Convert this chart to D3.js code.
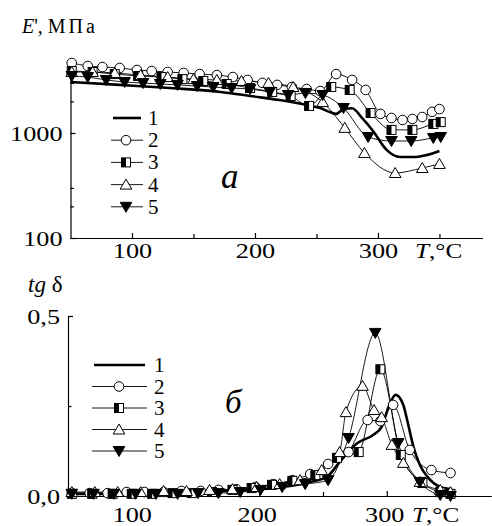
<!DOCTYPE html>
<html>
<head>
<meta charset="utf-8">
<script src="https://cdn.jsdelivr.net/npm/d3@7"></script>
<style>
body { margin: 0; background: #fff; }
svg { display: block; }
text { font-family: "Liberation Serif", "Times New Roman", serif; fill: #000; }
</style>
</head>
<body>
<script>
// panel a: storage modulus E', MPa (log axis)
var modT1 = [50, 90, 131, 172, 196, 220, 242, 253, 261, 266, 272, 279, 287, 296, 307, 318, 329, 339, 350];
var modE1 = [3060, 2870, 2680, 2460, 2250, 2060, 1850, 1730, 1580, 1520, 1690, 1720, 1390, 1045, 690, 590, 590, 615, 675];
var modT2 = [51, 64, 76, 90, 104, 116, 129, 142, 155, 169, 182, 194, 206, 218, 230, 242, 253, 266, 279, 290, 302, 311, 320, 328, 336, 344, 350];
var modE2 = [4640, 4350, 4250, 4160, 3980, 3890, 3810, 3730, 3640, 3560, 3410, 3200, 3000, 2870, 2740, 2620, 2510, 3640, 3200, 2570, 1520, 1390, 1330, 1360, 1420, 1590, 1690];
var modT3 = [51, 68, 86, 105, 124, 141, 158, 177, 196, 214, 229, 244, 262, 277, 294, 311, 328, 345, 351];
var modE3 = [3890, 3810, 3640, 3490, 3410, 3260, 3130, 2930, 2680, 2460, 2250, 1810, 2740, 2570, 1550, 1070, 1070, 1220, 1270];
var modT4 = [51, 68, 86, 107, 129, 150, 169, 189, 211, 231, 255, 273, 289, 314, 336, 350];
var modE4 = [3810, 3810, 3730, 3560, 3410, 3260, 3200, 3130, 3000, 2740, 1970, 1120, 645, 416, 464, 507];
var modT5 = [51, 64, 79, 94, 109, 123, 137, 153, 166, 181, 196, 212, 227, 241, 255, 272, 292, 311, 327, 345, 351];
var modE5 = [3490, 3410, 3200, 3060, 2990, 2930, 2870, 2800, 2740, 2680, 2620, 2460, 2300, 2400, 2300, 1730, 916, 839, 839, 896, 916];

// panel b: loss tangent
var lossT1 = [50, 91, 130, 169, 201, 224, 240, 253, 263, 277, 289, 296, 302, 307, 313, 316, 321, 326, 332, 342, 351];
var lossTg1 = [0.006, 0.006, 0.008, 0.014, 0.019, 0.028, 0.039, 0.053, 0.094, 0.147, 0.169, 0.192, 0.253, 0.281, 0.253, 0.211, 0.136, 0.086, 0.053, 0.025, 0.019];
var lossT2 = [53, 67, 81, 96, 110, 125, 139, 154, 168, 182, 197, 211, 226, 240, 254, 270, 285, 295, 305, 318, 335, 350];
var lossTg2 = [0.008, 0.008, 0.008, 0.011, 0.011, 0.011, 0.014, 0.014, 0.017, 0.019, 0.025, 0.033, 0.044, 0.061, 0.089, 0.122, 0.211, 0.208, 0.253, 0.128, 0.072, 0.064];
var lossT3 = [53, 69, 85, 100, 116, 132, 147, 163, 179, 194, 210, 226, 244, 261, 278, 295, 311, 328, 342, 350];
var lossTg3 = [0.006, 0.006, 0.006, 0.006, 0.006, 0.008, 0.008, 0.011, 0.017, 0.022, 0.031, 0.042, 0.058, 0.106, 0.122, 0.352, 0.114, 0.036, 0.011, 0.006];
var lossT4 = [53, 71, 89, 107, 125, 143, 161, 179, 198, 216, 232, 249, 263, 268, 281, 290, 296, 304, 313, 326, 342, 350];
var lossTg4 = [0.011, 0.011, 0.011, 0.011, 0.014, 0.014, 0.017, 0.019, 0.025, 0.033, 0.044, 0.072, 0.122, 0.233, 0.306, 0.239, 0.219, 0.142, 0.092, 0.039, 0.017, 0.011];
var lossT5 = [53, 70, 86, 103, 119, 136, 152, 168, 185, 201, 218, 236, 254, 270, 291, 309, 326, 342, 350];
var lossTg5 = [0.006, 0.006, 0.006, 0.006, 0.006, 0.006, 0.008, 0.008, 0.011, 0.017, 0.025, 0.033, 0.044, 0.161, 0.453, 0.147, 0.039, 0.003, 0.0];

var seriesNames = ["1", "2", "3", "4", "5"];
var xMajor = [100, 200, 300];
var xMinor = [150, 250, 350];
var eMajor = [100, 1000];
var eMinor = [200, 300, 2000, 3000];
var tgMajor = [0, 0.5];
var tgMinor = [0.25];

var modT = [modT1, modT2, modT3, modT4, modT5];
var modE = [modE1, modE2, modE3, modE4, modE5];
var lossT = [lossT1, lossT2, lossT3, lossT4, lossT5];
var lossTg = [lossTg1, lossTg2, lossTg3, lossTg4, lossTg5];

// marker type and line weight for each curve
var marks = [null, "circle", "square", "tri", "itri"];
var widths = [2.6, 0.9, 0.9, 0.9, 0.9];

var svg = d3.select("body").append("svg")
    .attr("width", 492)
    .attr("height", 526);

var xTop = d3.scaleLinear().domain([50, 385]).range([70.5, 482.5]);
var yTop = d3.scaleLog().domain([100, 5000]).range([238, 59.6]);
var xBot = d3.scaleLinear().domain([50, 382]).range([68, 491.3]);
var yBot = d3.scaleLinear().domain([0, 0.5]).range([496, 316]);

function widen(sel, k) {
    sel.each(function() {
        var len = this.getComputedTextLength();
        d3.select(this).attr("textLength", len * k).attr("lengthAdjust", "spacingAndGlyphs");
    });
}

function drawMarker(g, type, x, y) {
    if (type == "circle") {
        g.append("circle").attr("cx", x).attr("cy", y).attr("r", 4.8)
            .attr("fill", "#fff").attr("stroke", "#000").attr("stroke-width", 1);
    } else if (type == "square") {
        g.append("rect").attr("x", x - 4.5).attr("y", y - 4.5).attr("width", 9).attr("height", 9)
            .attr("fill", "#fff").attr("stroke", "#000").attr("stroke-width", 1);
        g.append("rect").attr("x", x - 4.5).attr("y", y - 4.5).attr("width", 4.5).attr("height", 9)
            .attr("fill", "#000");
    } else if (type == "tri") {
        g.append("path")
            .attr("d", "M" + x + "," + (y - 5.5) + "L" + (x + 5.8) + "," + (y + 4.5) + "L" + (x - 5.8) + "," + (y + 4.5) + "Z")
            .attr("fill", "#fff").attr("stroke", "#000").attr("stroke-width", 1);
    } else if (type == "itri") {
        g.append("path")
            .attr("d", "M" + x + "," + (y + 5.5) + "L" + (x + 5.8) + "," + (y - 4.5) + "L" + (x - 5.8) + "," + (y - 4.5) + "Z")
            .attr("fill", "#000").attr("stroke", "#000").attr("stroke-width", 1);
    }
}

function drawPanel(xs, ys, tArr, vArr, yMajor, yMinor, yFmt, xLabelY, xLabelShift) {
    var g = svg.append("g");

    // x axis, ticks pointing inward
    var xg = g.append("g")
        .attr("transform", "translate(0," + ys.range()[0] + ")")
        .call(d3.axisBottom(xs).tickValues(xMajor).tickSize(-5).tickSizeOuter(0).tickFormat(d3.format("d")));
    g.append("g")
        .attr("transform", "translate(0," + ys.range()[0] + ")")
        .call(d3.axisBottom(xs).tickValues(xMinor).tickSize(-4).tickSizeOuter(0).tickFormat(""))
        .select(".domain").remove();
    xg.selectAll("text")
        .attr("y", xLabelY).attr("dy", 0)
        .attr("x", function(d) { return d > 100 ? xLabelShift : 0; })
        .style("font-size", "21px")
        .call(widen, 1.25);

    // y axis
    var yg = g.append("g")
        .attr("transform", "translate(" + xs.range()[0] + ",0)")
        .call(d3.axisLeft(ys).tickValues(yMajor).tickSize(-5).tickSizeOuter(0).tickPadding(8).tickFormat(yFmt));
    g.append("g")
        .attr("transform", "translate(" + xs.range()[0] + ",0)")
        .call(d3.axisLeft(ys).tickValues(yMinor).tickSize(-3.5).tickSizeOuter(0).tickFormat(""))
        .select(".domain").remove();
    yg.selectAll("text")
        .attr("dy", "0.34em")
        .style("font-size", "21px")
        .call(widen, 1.25);
    g.selectAll(".domain, .tick line").attr("stroke-width", 1.2);

    var line = d3.line()
        .x(function(d) { return xs(d[0]); })
        .y(function(d) { return ys(d[1]); })
        .curve(d3.curveMonotoneX);

    var data = tArr.map(function(t, i) {
        return t.map(function(v, j) { return [v, vArr[i][j]]; });
    });

    data.forEach(function(pts, i) {
        g.append("path")
            .datum(pts)
            .attr("d", line)
            .attr("fill", "none")
            .attr("stroke", "#000")
            .attr("stroke-width", widths[i]);
    });
    data.forEach(function(pts, i) {
        if (!marks[i]) return;
        pts.forEach(function(d) { drawMarker(g, marks[i], xs(d[0]), ys(d[1])); });
    });
    return g;
}

drawPanel(xTop, yTop, modT, modE, eMajor, eMinor, d3.format("d"), 20, 0);
drawPanel(xBot, yBot, lossT, lossTg, tgMajor, tgMinor, function(d) { return d3.format(".1f")(d).replace(".", ","); }, 26, -2.5);

// legends
function drawLegend(x1, x2, xm, xl, y0, dy) {
    var lg = svg.append("g");
    seriesNames.forEach(function(name, i) {
        var y = y0 + dy * i;
        lg.append("line")
            .attr("x1", i == 0 ? x1 + 2 : x1).attr("x2", i == 0 ? x2 - 2 : x2)
            .attr("y1", y).attr("y2", y)
            .attr("stroke", "#000").attr("stroke-width", widths[i]);
        drawMarker(lg, marks[i], xm, y);
        lg.append("text")
            .attr("x", xl).attr("y", y + 7)
            .style("font-size", "21px")
            .text(name);
    });
}
drawLegend(111, 143, 126, 148, 118, 22.2);
drawLegend(92, 147, 119, 154, 365, 21.5);

// axis titles
var t1 = svg.append("text").attr("x", 22).attr("y", 33).style("font-size", "20px");
t1.append("tspan").style("font-style", "italic").text("E");
t1.append("tspan").text("', ");
t1.append("tspan").attr("letter-spacing", "3px").text("МПа");

var t2 = svg.append("text").attr("x", 28).attr("y", 292).style("font-size", "23px");
t2.append("tspan").style("font-style", "italic").text("tg ");
t2.append("tspan").text("δ");

[258, 522].forEach(function(y, i) {
    var t = svg.append("text").attr("x", i == 0 ? 415 : 412).attr("y", y).style("font-size", "21px");
    t.append("tspan").style("font-style", "italic").text("T");
    t.append("tspan").text(",°C");
    t.call(widen, 1.2);
});

svg.append("text").attr("x", 221).attr("y", 188)
    .style("font-size", "35px").style("font-style", "italic")
    .text("а");
svg.append("text").attr("x", 225).attr("y", 413)
    .style("font-size", "33px").style("font-style", "italic")
    .text("б");
</script>
</body>
</html>
